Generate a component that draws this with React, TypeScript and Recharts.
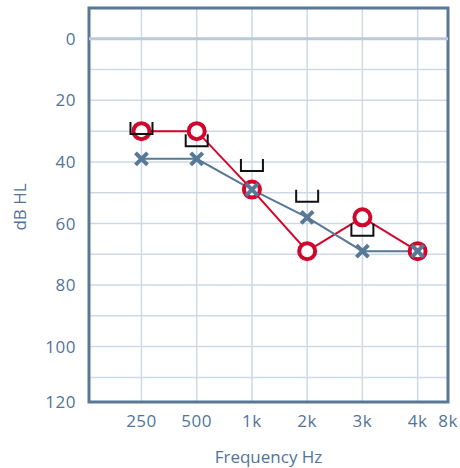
import React from 'react';
import {
  ComposedChart,
  Line,
  XAxis,
  YAxis,
  CartesianGrid,
  ReferenceLine,
  ReferenceArea,
  Label,
} from 'recharts';

// audiogram, frequencies as index positions on the x axis
const freqLabels = ['250', '500', '1k', '2k', '3k', '4k', '8k'];
const freqTicks = [1, 2, 3, 4, 5, 6, 6.55];
const rightEar = [30, 30, 49, 69, 58, 69]; // O
const leftEar = [39, 39, 49, 58, 69, 69]; // X
const boneMasked = [29, 33, 41, 51, 62]; // bracket, no 4k

const dbTicks = [0, 20, 40, 60, 80, 100, 118];
const dbLabels = ['0', '20', '40', '60', '80', '100', '120'];
const dbGrid = [0, 10, 20, 30, 40, 50, 60, 70, 80, 90, 100, 110];

const data = rightEar.map((v, i) => ({
  x: i + 1,
  right: v,
  left: leftEar[i],
  bone: i < boneMasked.length ? boneMasked[i] : null,
}));

const RED = '#d2062c';
const BLUE = '#587898';
const TEXT = '#52749a';
const GRID = '#cdd9e4';
const FONT = '"Open Sans", sans-serif';

const CircleDot = (props: any) => {
  const { cx, cy, index } = props;
  if (cx == null || cy == null) return <g key={`o${index}`} />;
  return <circle key={`o${index}`} cx={cx} cy={cy} r={8} fill="#fff" stroke={RED} strokeWidth={4} />;
};

const CrossDot = (props: any) => {
  const { cx, cy, index } = props;
  if (cx == null || cy == null) return <g key={`x${index}`} />;
  const s = 6;
  return (
    <g key={`x${index}`} stroke={BLUE} strokeWidth={4}>
      <line x1={cx - s} y1={cy - s} x2={cx + s} y2={cy + s} />
      <line x1={cx - s} y1={cy + s} x2={cx + s} y2={cy - s} />
    </g>
  );
};

const BracketDot = (props: any) => {
  const { cx, cy, index, value } = props;
  if (cx == null || cy == null || value == null) return <g key={`b${index}`} />;
  return (
    <path
      key={`b${index}`}
      d={`M${cx - 11},${cy - 6} V${cy + 6} H${cx + 11} V${cy - 6}`}
      fill="none"
      stroke="#111"
      strokeWidth={2}
    />
  );
};

export default function App() {
  return (
    <div style={{ position: 'absolute', left: 0, top: 0, width: 460, height: 468, background: '#fff' }}>
      <ComposedChart width={460} height={468} data={data} margin={{ top: 8, right: 12, left: 0, bottom: 0 }}>
        <CartesianGrid
          stroke={GRID}
          strokeWidth={1.5}
          horizontalValues={dbGrid}
          verticalValues={[1, 2, 3, 4, 5, 6]}
        />
        <XAxis
          type="number"
          dataKey="x"
          domain={[0.05, 6.55]}
          ticks={freqTicks}
          tickFormatter={(v: number) => freqLabels[freqTicks.indexOf(v)]}
          axisLine={false}
          tickLine={false}
          tickMargin={7}
          height={66}
          tick={{ fontSize: 17, fill: TEXT, fontFamily: FONT, letterSpacing: 0.5 }}
          interval={0}
        >
          <Label
            value="Frequency Hz"
            position="insideBottom"
            offset={5}
            style={{ fontSize: 17, fill: TEXT, fontFamily: FONT }}
          />
        </XAxis>
        <YAxis
          type="number"
          reversed
          domain={[-10, 118]}
          ticks={dbTicks}
          tickFormatter={(v: number) => dbLabels[dbTicks.indexOf(v)]}
          axisLine={false}
          tickLine={false}
          tickMargin={7}
          width={89}
          interval={0}
          tick={{ fontSize: 17, fill: TEXT, fontFamily: FONT, letterSpacing: 0.5 }}
        >
          <Label
            content={() => (
              <text
                x={19}
                y={207}
                transform="rotate(-90 19 207)"
                textAnchor="middle"
                dominantBaseline="central"
                fontSize={17}
                fill={TEXT}
                fontFamily={FONT}
              >
                dB HL
              </text>
            )}
          />
        </YAxis>
        <ReferenceLine y={0} stroke="#b9cbda" strokeWidth={3} />
        <Line
          dataKey="right"
          stroke={RED}
          strokeWidth={2}
          dot={CircleDot}
          activeDot={false}
          isAnimationActive={false}
        />
        <Line
          dataKey="left"
          stroke={BLUE}
          strokeWidth={2}
          dot={CrossDot}
          activeDot={false}
          isAnimationActive={false}
        />
        <Line
          dataKey="bone"
          stroke="none"
          dot={BracketDot}
          activeDot={false}
          isAnimationActive={false}
        />
        <ReferenceArea
          x1={0.05}
          x2={6.55}
          y1={-10}
          y2={118}
          fill="none"
          stroke={BLUE}
          strokeWidth={3}
        />
      </ComposedChart>
    </div>
  );
}
